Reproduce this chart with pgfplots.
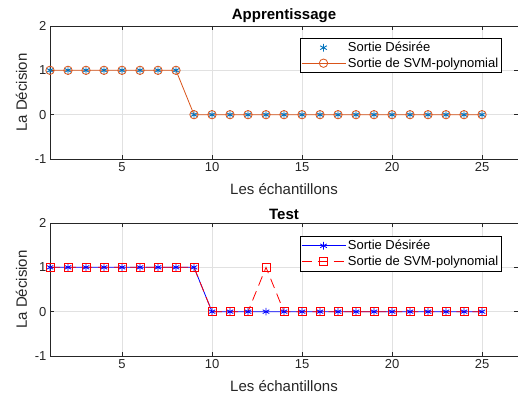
\documentclass[border=0pt]{standalone}
\usepackage{pgfplots}
\pgfplotsset{compat=1.18}
\usepackage{fontspec}
\setmainfont{Liberation Sans}

\definecolor{mblue}{RGB}{0,114,189}
\definecolor{morange}{RGB}{217,83,25}
\definecolor{axgray}{RGB}{38,38,38}
\definecolor{gridgray}{RGB}{225,225,225}

\pgfplotsset{
  decision/.style={
    scale only axis,
    width=468pt, height=133pt,
    xmin=1, xmax=27, ymin=-1, ymax=2,
    xtick={5,10,15,20,25}, ytick={-1,0,1,2},
    tick align=inside,
    major tick length=4pt,
    xtick pos=both, ytick pos=both,
    grid=major,
    major grid style={gridgray, line width=0.6pt},
    axis line style={axgray, line width=0.6pt},
    every tick/.style={axgray, line width=0.6pt},
    tick label style={font=\fontsize{13}{14}\selectfont, text=axgray},
    /pgf/number format/assume math mode=true,
    xlabel={Les échantillons},
    ylabel={La Décision},
    label style={font=\fontsize{15}{16}\selectfont, text=axgray},
    xlabel style={yshift=-5pt},
    ylabel style={yshift=1pt},
    title style={font=\bfseries\fontsize{15}{16}\selectfont, yshift=-6pt},
    legend cell align=left,
    legend style={nodes={font=\fontsize{13}{15}\selectfont},
      inner xsep=1pt, inner ysep=2pt,
      row sep=0.5pt, anchor=north west},
    legend image code/.code={%
      \draw[mark repeat=2,mark phase=2,##1]
        plot coordinates {(0pt,0pt) (22pt,0pt) (44pt,0pt)};},
  }
}

\begin{document}
\begin{tikzpicture}[x=1pt,y=1pt]
% Training set
\begin{axis}[decision, at={(50pt,242pt)}, anchor=south west,
  title={Apprentissage},
  legend style={at={(0.534,0.91)}}]
\addplot[only marks, mark=asterisk, mark size=3.8pt, color=mblue, line width=0.9pt]
  coordinates {(1,1)(2,1)(3,1)(4,1)(5,1)(6,1)(7,1)(8,1)(9,0)(10,0)(11,0)(12,0)
  (13,0)(14,0)(15,0)(16,0)(17,0)(18,0)(19,0)(20,0)(21,0)(22,0)(23,0)(24,0)(25,0)};
\addlegendentry{Sortie Désirée}
\addplot[color=morange, line width=0.8pt, mark=o, mark size=4.2pt]
  coordinates {(1,1)(2,1)(3,1)(4,1)(5,1)(6,1)(7,1)(8,1)(9,0)(10,0)(11,0)(12,0)
  (13,0)(14,0)(15,0)(16,0)(17,0)(18,0)(19,0)(20,0)(21,0)(22,0)(23,0)(24,0)(25,0)};
\addlegendentry{Sortie de SVM-polynomial}
\end{axis}
% Test set
\begin{axis}[decision, at={(50pt,45pt)}, anchor=south west,
  title={Test},
  legend style={at={(0.534,0.902)}}]
\addplot[color=blue, line width=0.8pt, mark=asterisk, mark size=3.8pt]
  coordinates {(1,1)(2,1)(3,1)(4,1)(5,1)(6,1)(7,1)(8,1)(9,1)(10,0)(11,0)(12,0)
  (13,0)(14,0)(15,0)(16,0)(17,0)(18,0)(19,0)(20,0)(21,0)(22,0)(23,0)(24,0)(25,0)};
\addlegendentry{Sortie Désirée}
\addplot[color=red, line width=0.8pt, dash pattern=on 10pt off 6pt,
  mark=square, mark size=4pt, mark options={solid}]
  coordinates {(1,1)(2,1)(3,1)(4,1)(5,1)(6,1)(7,1)(8,1)(9,1)(10,0)(11,0)(12,0)
  (13,1)(14,0)(15,0)(16,0)(17,0)(18,0)(19,0)(20,0)(21,0)(22,0)(23,0)(24,0)(25,0)};
\addlegendentry{Sortie de SVM-polynomial}
\end{axis}
\pgfresetboundingbox
\useasboundingbox (0pt,0pt) rectangle (518pt,401pt);
\end{tikzpicture}
\end{document}
